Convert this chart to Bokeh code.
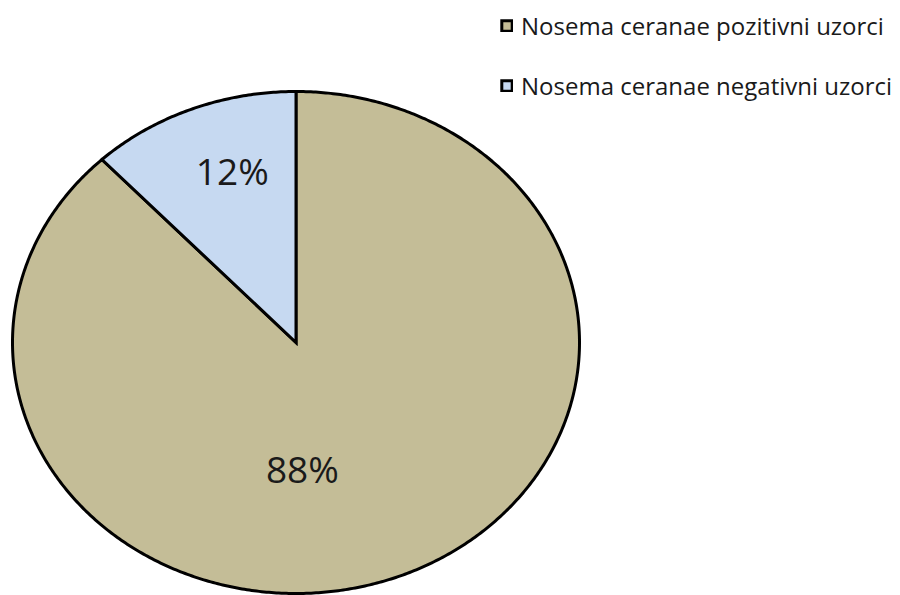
import numpy as np
from bokeh.plotting import figure
from bokeh.models import Range1d, Legend, LegendItem
from bokeh.core.properties import value
from bokeh.embed import file_html
from bokeh.resources import INLINE

# ---- data ----
categories = ["Nosema ceranae pozitivni uzorci", "Nosema ceranae negativni uzorci"]
values = [88, 12]
pct_labels = ["88%", "12%"]
colors = ["#C4BD97", "#C6D9F1"]

# ---- layout ----
W, H = 900, 595
cx, cy = 295.5, 342.0      # pie centre in canvas px
rx, ry = 283.5, 251.0      # pie radii in px (slightly elliptical as in reference)

p = figure(width=W, height=H, output_backend="svg", toolbar_location=None,
           x_range=Range1d(-cx / rx, (W - cx) / rx),
           y_range=Range1d(-(H - cy) / ry, cy / ry),
           x_axis_location=None, y_axis_location=None, min_border=0)
p.grid.visible = False
p.outline_line_color = None
p.background_fill_color = "white"
p.border_fill_color = "white"

total = float(sum(values))
start = 0.0  # clockwise degrees from 12 o'clock
renderers = []
mids = []
for v, c in zip(values, colors):
    sweep = 360.0 * v / total
    n = max(int(sweep * 2), 4)
    a = np.radians(90.0 - np.linspace(start, start + sweep, n))
    xs = np.concatenate([[0.0], np.cos(a), [0.0]])
    ys = np.concatenate([[0.0], np.sin(a), [0.0]])
    r = p.patch(xs, ys, fill_color=c, line_color="black", line_width=3, line_join="miter")
    renderers.append(r)
    mids.append(start + sweep / 2.0)
    start += sweep

# percentage labels
label_r = [0.54, 0.735]
label_dx = [-50, 13]
lx, ly = [], []
for m, rr in zip(mids, label_r):
    t = np.radians(90.0 - m)
    lx.append(rr * np.cos(t))
    ly.append(rr * np.sin(t))
for x, y, t, dx in zip(lx, ly, pct_labels, label_dx):
    p.text([x], [y], text=[t], text_align="center", text_baseline="middle",
           text_font=value("Open Sans"), text_font_size="37px", text_color="#1a1a1a",
           x_offset=dx)

legend = Legend(items=[LegendItem(label=cat, renderers=[r]) for cat, r in zip(categories, renderers)],
                location=(500, 493), orientation="vertical",
                glyph_width=13, glyph_height=13, label_standoff=8,
                label_text_font="Open Sans", label_text_font_size="24px",
                label_text_color="#1a1a1a", spacing=27, padding=0, margin=0,
                border_line_color=None, background_fill_alpha=0)
p.add_layout(legend)

open("out.html", "w").write(file_html(p, INLINE))
